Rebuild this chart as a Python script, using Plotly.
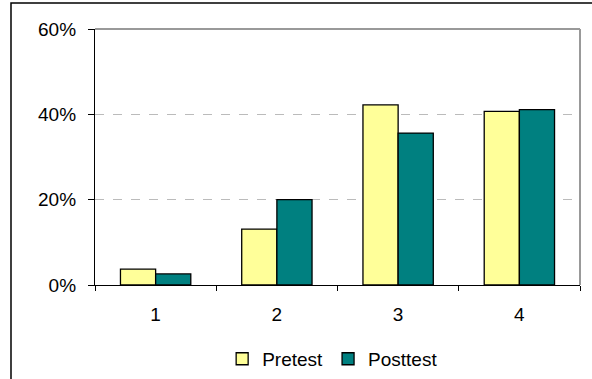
import plotly.graph_objects as go

categories = ["1", "2", "3", "4"]
pretest = [3.7, 13.1, 42.2, 40.7]
posttest = [2.6, 20.0, 35.6, 41.1]
y_ticks = [0, 20, 40, 60]
y_tick_labels = ["0%", "20%", "40%", "60%"]

fig = go.Figure()
fig.add_trace(go.Bar(name="Pretest", x=categories, y=pretest,
                     marker=dict(color="#FFFF99", line=dict(color="black", width=1.3))))
fig.add_trace(go.Bar(name="Posttest", x=categories, y=posttest,
                     marker=dict(color="#008080", line=dict(color="black", width=1.3))))

fig.update_layout(
    width=592, height=379,
    margin=dict(l=95, r=12, t=29, b=94),
    paper_bgcolor="white", plot_bgcolor="white",
    barmode="group", bargap=0.42, bargroupgap=0,
    font=dict(family="Liberation Sans, Arial", size=19, color="black"),
    showlegend=True,
    legend=dict(orientation="h", x=0.49, xanchor="center",
                yref="container", y=0.053, yanchor="middle",
                font=dict(size=19), itemwidth=30, tracegroupgap=0),
    xaxis=dict(showline=True, linecolor="black", linewidth=1.3, ticks="outside",
               tickson="boundaries", ticklen=5, tickcolor="black", mirror=False,
               showgrid=False, ticklabelstandoff=12),
    yaxis=dict(range=[0, 60], tickvals=y_ticks, ticktext=y_tick_labels,
               showline=True, linecolor="black", linewidth=1.3, ticks="outside",
               ticklen=6, tickcolor="black", showgrid=True, gridcolor="#BBBBBB",
               griddash="dash", gridwidth=1, zeroline=False, ticklabelstandoff=8),
)

# plot area top/right border (gray)
fig.add_shape(type="line", xref="paper", yref="paper", x0=0, x1=1, y0=1, y1=1,
              line=dict(color="#999999", width=2))
fig.add_shape(type="line", xref="paper", yref="paper", x0=1, x1=1, y0=0, y1=1,
              line=dict(color="#999999", width=2))
# outer chart border
fig.add_shape(type="rect", xref="paper", yref="paper", x0=-0.1732, x1=1.1, y0=-0.5, y1=1.1016,
              line=dict(color="black", width=1.5), layer="above")

fig.write_html("out.html", config={"displayModeBar": False},
               post_script="document.body.style.margin='0';")
